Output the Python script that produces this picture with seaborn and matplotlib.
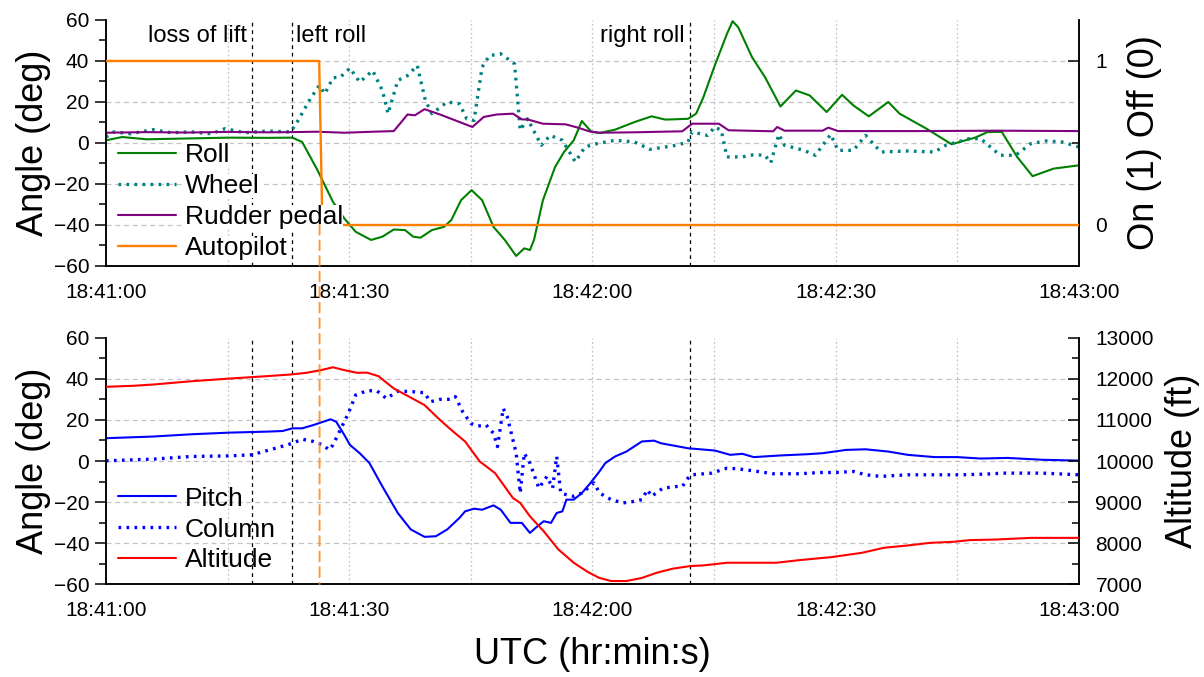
import matplotlib
matplotlib.use("Agg")
import matplotlib.pyplot as plt
from matplotlib.ticker import MultipleLocator, FixedLocator, FuncFormatter
from matplotlib.patches import ConnectionPatch
import seaborn as sns

# ---- flight data (seconds after 18:41:00) ----
roll_t = [0, 2, 5, 10, 15, 20, 23, 24.2, 26.1, 26.8, 28, 29.4, 30.8, 32.7, 34.1, 35.5,
          36.9, 37.9, 38.8, 40.2, 41.7, 42.6, 43.8, 45.1, 46.4, 47.8, 49.2, 50.6, 51.6,
          52.3, 52.8, 53.9, 55.4, 56.5, 57.7, 58.7, 59.9, 60.9, 62.8, 65.2, 67.3, 69,
          71.8, 72.8, 73.7, 75.1, 76.6, 77.3, 78, 79.7, 81.3, 83.2, 85.1, 86.8, 88.9,
          90.8, 92.2, 94.1, 96.5, 97.9, 101.2, 104.3, 107.2, 108.8, 110.5, 112.4, 114.3,
          116.9, 120]
roll_deg = [1.3, 2.9, 1.8, 2.2, 2.6, 2.5, 2.6, 0.5, -13.3, -19, -28.7, -36.8, -43.3, -47.3,
            -45.7, -42.2, -42.5, -45.7, -46.2, -42.5, -40.9, -37.6, -27.9, -23, -27.9,
            -40.9, -47.3, -55.1, -51.4, -52.2, -47.3, -27.9, -11.7, -4.4, 1.3, 10.7, 5.4,
            4.9, 6.5, 10.2, 13, 11.4, 11.8, 14.3, 22.4, 37.8, 53.2, 59.4, 56.4, 41.8, 32.1,
            17.8, 25.6, 23.2, 15.1, 23.5, 18.3, 13, 20, 14.3, 7, -0.6, 2.6, 5.4, 5.4, -6.8,
            -16.2, -12.5, -10.9]

wheel_t = [0, 1, 3, 5.8, 8, 10.5, 13, 14.7, 17.1, 19.9, 22.8, 23.7, 25.1, 26.3, 27, 28,
           28.9, 30.1, 31.3, 32.9, 34.1, 34.8, 36, 37.2, 38.4, 39.4, 40.2, 42.1, 43.6,
           44.5, 45.4, 46.4, 47.3, 48.7, 50.4, 51.1, 52, 53.7, 54.8, 56.3, 57.9, 59.1,
           60.6, 62.8, 65.2, 67.1, 70.4, 71.8, 72.3, 74.2, 75.1, 75.9, 76.6, 78.5, 79.9,
           81.3, 82, 83, 83.7, 86.1, 87.5, 89.4, 90.3, 92.2, 93.7, 95.6, 98.9, 102.2,
           103.6, 106.5, 107.9, 110.3, 112.2, 114.1, 116, 117.9, 120]
wheel_deg = [2.9, 5.4, 4.5, 6.5, 5, 5.4, 4.5, 7, 5, 5.8, 5.4, 11, 20.8, 28.1, 24, 31.8,
             32.1, 36.5, 29.7, 35.3, 25.6, 14.3, 30.5, 32.9, 37.8, 20.8, 14.3, 20, 19.1,
             11.8, 11, 37, 42.6, 43.5, 38.6, 6.2, 11.8, -1.1, 3.7, 1.3, -9.2, -1.9, -0.3,
             1.3, 0.5, -3.1, -1.1, 0.5, 5.4, 3.7, 7.8, 6.2, -6.8, -6.8, -5.7, -6, -9.7,
             4.2, -1.1, -3.6, -6, 4.2, -3.6, -3.6, 3.7, -4.4, -3.9, -4.4, -1.1, 2.1, 2.1,
             -6, -6, -0.3, 1, 0.5, -1.9]

rudder_t = [0, 5, 10, 15, 20, 23, 26, 29.4, 33, 35.5, 36.2, 37.2, 38.1, 39.3, 41.2, 45.2,
            46.6, 48.2, 50.2, 51.3, 52, 53.9, 56.7, 58.2, 59.6, 60.9, 65, 71.1, 72.3,
            75.6, 76.8, 82.3, 82.8, 83.7, 88.4, 89.1, 90.3, 100, 110, 120]
rudder_deg = [5, 5.3, 5.1, 5.4, 5.2, 5.3, 5.5, 5, 5.5, 5.8, 9.1, 13.9, 13.5, 16.5, 13.9,
              7.8, 12.7, 13.9, 14.3, 11.5, 11.5, 9.4, 9.1, 7.5, 5.7, 5, 5.2, 5.7, 9.4,
              9.4, 6.2, 5.7, 7.8, 6, 6, 7.5, 5.8, 5.8, 6, 5.8]

autopilot_t = [0, 26.3, 26.7, 120]
autopilot_state = [1, 1, 0, 0]

pitch_t = [0, 5.8, 10.5, 15.2, 19.9, 21.8, 23, 24.2, 25.6, 26.8, 27.7, 28.4, 29.4, 30.1,
           31.3, 32.5, 34.1, 36, 37.6, 39.3, 40.7, 42.1, 43.6, 44.3, 45.4, 46.4, 47.8,
           48.7, 49.9, 51.3, 52.3, 53, 54, 54.9, 55.6, 56.3, 56.8, 57.7, 58.7, 59.6,
           60.8, 61.6, 62.8, 64.2, 66.1, 67.6, 68.5, 71.8, 74.2, 75.1, 77, 78.5, 79.9,
           83.2, 86.5, 88.4, 91.3, 93.7, 96.5, 98.9, 102.2, 105, 107.9, 111.2, 115.5, 120]
pitch_deg = [11.1, 11.9, 13, 13.8, 14.3, 14.6, 15.9, 15.9, 17.5, 19.1, 20.3, 19.1, 12.7,
             7.8, 3.8, -1, -12.4, -25.3, -33.3, -36.9, -36.6, -33.3, -27.7, -24.5, -23.2,
             -23.7, -21.6, -23.7, -30.1, -30.1, -35, -32.5, -29.3, -30.1, -25.3, -24.5,
             -18.8, -18.8, -15.6, -11.5, -5.5, -1, 2.2, 4.6, 9.5, 9.9, 8.6, 6.2, 5.4, 5.1,
             3, 3.5, 1.9, 2.7, 3.3, 3.8, 5.4, 5.7, 4.6, 3, 1.9, 1.9, 1.2, 1.5, 0.6, 0.2]

column_t = [0, 5.8, 10.5, 15.2, 18, 20.9, 23, 24.2, 25.6, 26.8, 27.5, 28, 28.9, 29.9,
            30.8, 32.2, 33.4, 34.6, 36, 37.9, 39.3, 40, 41.2, 42.6, 43.1, 44, 45, 45.9,
            46.9, 47.8, 48.3, 49, 49.5, 50.2, 50.6, 51.1, 51.6, 52.3, 53.4, 54.4, 55.1,
            55.6, 56.1, 56.8, 57.7, 58.7, 60.2, 60.9, 62.3, 63.8, 65.2, 66.1, 66.8, 67.3,
            68.7, 70.4, 71.1, 71.8, 72.3, 74.7, 76.6, 78, 80.4, 82.3, 85.6, 88, 89.9,
            92.2, 93.7, 95.6, 98.9, 102.7, 105.5, 108.4, 110.7, 115.5, 120]
column_deg = [0.1, 0.9, 2.2, 2.5, 3, 6.2, 8.6, 10.6, 9.5, 7.8, 5.4, 7.8, 15.1, 23.2, 32.1,
              34.2, 34.2, 30.4, 34, 33.7, 33.2, 28.8, 30, 30, 31.3, 24, 18.3, 17, 17.5,
              13.5, 7, 25.6, 21.6, 10.3, 3.8, -15.6, 3.8, -1, -13.2, -7.5, -13.2, 2.2,
              -15.6, -16.4, -17.2, -15.6, -10.7, -15.6, -18.8, -20.4, -19.6, -18.8, -14,
              -17.2, -13.2, -12.4, -12.4, -8.3, -6.7, -5.9, -3.5, -3.8, -5.1, -6.2, -6.2,
              -5.6, -5.6, -5.1, -6.7, -7.5, -6.7, -6.7, -6.7, -6.4, -5.9, -5.9, -6.7]

altitude_t = [0, 3.4, 5.8, 10.5, 15.2, 19.9, 22.8, 24.7, 26.5, 28, 29.4, 31, 32.2, 33.6,
              35.5, 37.4, 39.3, 41.2, 42.6, 44.3, 46.1, 48, 50.2, 51.1, 52.3, 54, 55.8,
              57.7, 59.4, 60.8, 62.3, 64.2, 66.1, 68, 69.9, 72.1, 73.7, 76.6, 78.9, 82.7,
              85.6, 89.4, 93.2, 96, 98.9, 101.7, 104.6, 106.5, 109.8, 114.1, 120]
altitude_ft = [11805, 11830, 11860, 11940, 12005, 12065, 12105, 12145, 12210, 12280, 12210,
               12145, 12150, 12065, 11765, 11565, 11360, 11000, 10755, 10475, 9990, 9705,
               9100, 8980, 8655, 8290, 7850, 7525, 7305, 7160, 7080, 7080, 7155, 7285,
               7380, 7445, 7460, 7525, 7525, 7525, 7590, 7660, 7765, 7890, 7945, 8010,
               8035, 8075, 8090, 8130, 8130]

events_t = [18, 23, 72]
event_labels = ["loss of lift", "left roll", "right roll"]
event_align = ["right", "left", "right"]
autopilot_off_t = 26.35

# ---- styling ----
sns.set_theme(style="white")
plt.rcParams["font.family"] = ["Liberation Sans", "DejaVu Sans"]
plt.rcParams["axes.edgecolor"] = "black"
plt.rcParams["axes.linewidth"] = 1.1
plt.rcParams["text.color"] = "black"
plt.rcParams["axes.labelcolor"] = "black"
plt.rcParams["xtick.color"] = "black"
plt.rcParams["ytick.color"] = "black"

TICK_FS = 15
LABEL_FS = 26
LEGEND_FS = 19
NOTE_FS = 17
GRID_C = "#c4c4c4"

fig = plt.figure(figsize=(12.04, 6.77), dpi=100)
ax_top = fig.add_axes([0.088, 0.6071, 0.808, 0.3634])
ax_bot = fig.add_axes([0.088, 0.1369, 0.808, 0.3643])
ax_top_r = ax_top.twinx()
ax_bot_r = ax_bot.twinx()


def time_label(v, _pos):
    s = int(round(v))
    return f"18:{41 + s // 60}:{s % 60:02d}"


def style_angle_axis(ax):
    ax.set_xlim(0, 120)
    ax.set_ylim(-60, 60)
    ax.xaxis.set_major_locator(MultipleLocator(30))
    ax.xaxis.set_minor_locator(MultipleLocator(15))
    ax.xaxis.set_major_formatter(FuncFormatter(time_label))
    ax.yaxis.set_major_locator(MultipleLocator(20))
    ax.yaxis.set_minor_locator(MultipleLocator(10))
    ax.tick_params(axis="both", which="major", direction="out", length=8, width=1.1,
                   labelsize=TICK_FS, pad=4, colors="black")
    ax.tick_params(axis="both", which="minor", direction="out", length=5, width=1.1)
    ax.tick_params(axis="y", which="both", right=False)
    ax.tick_params(axis="x", which="both", top=False)
    ax.spines["top"].set_visible(False)
    ax.set_ylabel("Angle (deg)", fontsize=LABEL_FS, labelpad=2, color="black")
    # light dashed grid
    for gv in [-40, -20, 0, 20, 40]:
        ax.axhline(gv, color=GRID_C, lw=0.9, ls=(0, (4, 3)), zorder=0)
    for gt in [15, 30, 45, 60, 75, 90, 105]:
        ax.axvline(gt, color=GRID_C, lw=0.9, ls=(0, (1.5, 2)), zorder=0)
    # event markers
    for et in events_t:
        ax.axvline(et, color="black", lw=0.9, ls=(0, (3, 3)), zorder=1)


def style_right_axis(ax):
    ax.spines["top"].set_visible(False)
    ax.tick_params(axis="y", which="major", direction="in", length=8, width=1.1,
                   labelsize=TICK_FS, pad=12, colors="black")
    ax.tick_params(axis="y", which="minor", direction="in", length=5, width=1.1)
    ax.grid(False)


style_angle_axis(ax_top)
style_angle_axis(ax_bot)
ax_bot.set_xlabel("UTC (hr:min:s)", fontsize=LABEL_FS, labelpad=12, color="black")

# ---- upper panel: roll control ----
lw = 1.5
sns.lineplot(x=roll_t, y=roll_deg, ax=ax_top, color="#008000", lw=lw, label="Roll",
             legend=False, zorder=3)
sns.lineplot(x=wheel_t, y=wheel_deg, ax=ax_top, color="#008080", lw=2.4,
             ls=(0, (0.8, 1.6)), label="Wheel", legend=False, zorder=3)
sns.lineplot(x=rudder_t, y=rudder_deg, ax=ax_top, color="#800080", lw=lw,
             label="Rudder pedal", legend=False, zorder=3)
sns.lineplot(x=autopilot_t, y=autopilot_state, ax=ax_top_r, color="#ff8000", lw=1.7,
             label="Autopilot", legend=False, zorder=3)

ax_top_r.set_ylim(-0.25, 1.25)
ax_top_r.yaxis.set_major_locator(FixedLocator([0, 1]))
ax_top_r.yaxis.set_minor_locator(FixedLocator([0.5]))
style_right_axis(ax_top_r)
ax_top_r.set_ylabel("On (1) Off (0)", fontsize=LABEL_FS, labelpad=14, color="black")

for et, txt, ha in zip(events_t, event_labels, event_align):
    off = -0.6 if ha == "right" else 0.5
    ax_top.text(et + off, 52, txt, ha=ha, va="center", fontsize=NOTE_FS, zorder=5,
                color="black")

legend_kw = dict(loc="center left", frameon=False, fontsize=LEGEND_FS,
                 handlelength=2.2, handletextpad=0.35, labelspacing=0.26,
                 borderpad=0.2, borderaxespad=0.25, labelcolor="black")

top_handles = [l for l in ax_top.get_lines()
               if l.get_label() in ("Roll", "Wheel", "Rudder pedal")]
top_handles += [l for l in ax_top_r.get_lines() if l.get_label() == "Autopilot"]
leg_top = ax_top_r.legend(handles=top_handles, bbox_to_anchor=(0.0, 0.262), **legend_kw)
for t in leg_top.get_texts():
    t.set_bbox(dict(facecolor="white", edgecolor="none", pad=0))
leg_top.set_zorder(10)

# ---- lower panel: pitch control and altitude ----
sns.lineplot(x=pitch_t, y=pitch_deg, ax=ax_bot, color="#0000ff", lw=lw, label="Pitch",
             legend=False, zorder=3)
sns.lineplot(x=column_t, y=column_deg, ax=ax_bot, color="#0000ff", lw=2.4,
             ls=(0, (0.8, 1.6)), label="Column", legend=False, zorder=3)
sns.lineplot(x=altitude_t, y=altitude_ft, ax=ax_bot_r, color="#ff0000", lw=lw,
             label="Altitude", legend=False, zorder=3)

ax_bot_r.set_ylim(7000, 13000)
ax_bot_r.yaxis.set_major_locator(MultipleLocator(1000))
ax_bot_r.yaxis.set_minor_locator(MultipleLocator(500))
style_right_axis(ax_bot_r)
ax_bot_r.set_ylabel("Altitude (ft)", fontsize=LABEL_FS, labelpad=8, color="black")

bot_handles = [l for l in ax_bot.get_lines() if l.get_label() in ("Pitch", "Column")]
bot_handles += [l for l in ax_bot_r.get_lines() if l.get_label() == "Altitude"]
leg_bot = ax_bot_r.legend(handles=bot_handles, bbox_to_anchor=(0.0, 0.222), **legend_kw)

# autopilot disconnect marker spanning both panels
con = ConnectionPatch(xyA=(autopilot_off_t, 0), coordsA=ax_top_r.transData,
                      xyB=(autopilot_off_t, -60), coordsB=ax_bot.transData,
                      color="#ff8000", lw=1.4, ls=(0, (5, 3)), alpha=0.8, zorder=2)
fig.add_artist(con)

fig.savefig("out.png", dpi=100)
